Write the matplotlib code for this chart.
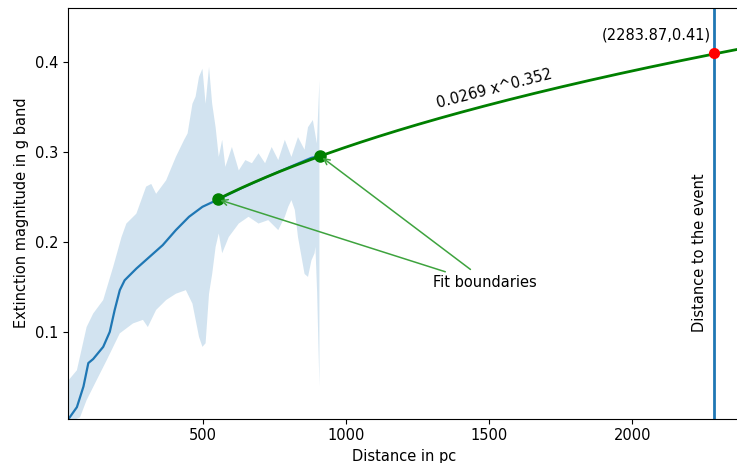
import numpy as np
import matplotlib
matplotlib.use("Agg")
import matplotlib.pyplot as plt

plt.rcParams['font.size'] = 10.5

# median extinction curve
dist = [29, 58, 81, 98, 115, 150, 173, 190, 208, 225, 266, 312, 358, 404, 450, 497,
        550, 635, 750, 878, 909]
ext = [0.004, 0.017, 0.040, 0.066, 0.0705, 0.084, 0.1007, 0.1248, 0.147, 0.158, 0.171,
       0.184, 0.197, 0.2137, 0.2285, 0.2396, 0.2475, 0.2605, 0.2767, 0.294, 0.296]

# spread band, upper and lower edges
up_x = [29, 58, 92, 115, 150, 185, 214, 231, 266, 300, 318, 335, 370, 404, 433, 445,
        462, 473, 485, 497, 508, 520, 531, 543, 554, 566, 577, 600, 624, 647, 670, 693,
        716, 739, 762, 785, 808, 831, 854, 866, 883, 897, 906]
up_y = [0.047, 0.058, 0.106, 0.121, 0.136, 0.173, 0.206, 0.221, 0.232, 0.262, 0.265,
        0.254, 0.269, 0.295, 0.314, 0.321, 0.354, 0.362, 0.384, 0.393, 0.354, 0.395,
        0.354, 0.328, 0.295, 0.314, 0.284, 0.306, 0.280, 0.2915, 0.288, 0.299, 0.288,
        0.306, 0.2915, 0.314, 0.295, 0.317, 0.303, 0.328, 0.336, 0.310, 0.380]
lo_x = [29, 69, 92, 127, 162, 208, 254, 289, 306, 335, 370, 404, 439, 462, 485, 497,
        508, 520, 531, 543, 554, 566, 589, 624, 658, 693, 727, 762, 785, 797, 808, 820,
        831, 854, 866, 878, 889, 892, 898, 906]
lo_y = [0.0, 0.0057, 0.0248, 0.047, 0.069, 0.099, 0.110, 0.114, 0.106, 0.125, 0.136,
        0.143, 0.147, 0.132, 0.095, 0.084, 0.088, 0.143, 0.165, 0.195, 0.210, 0.188,
        0.206, 0.221, 0.2285, 0.221, 0.2248, 0.2137, 0.2285, 0.2396, 0.247, 0.236,
        0.206, 0.165, 0.1617, 0.180, 0.188, 0.195, 0.144, 0.040]

# power-law fit shown in the chart
fit_a, fit_b = 0.0269, 0.352
fit_lo, fit_hi = 550, 909
event_d, event_ext = 2283.87, 0.41

fig = plt.figure(figsize=(7.37, 4.63), dpi=100)
ax = fig.add_axes([0.0923, 0.0961, 0.912, 0.8877])

ax.fill(np.r_[up_x, lo_x[::-1]], np.r_[up_y, lo_y[::-1]], color='#1f77b4',
        alpha=0.2, lw=0)
ax.plot(dist, ext, color='#1f77b4', lw=1.6)

xf = np.linspace(fit_lo, 2420, 300)
ax.plot(xf, fit_a * xf**fit_b, color='green', lw=2)
ax.plot([fit_lo, fit_hi], [fit_a * fit_lo**fit_b, fit_a * fit_hi**fit_b], 'o',
        color='green', ms=8)

ax.axvline(event_d, color='#1f77b4', lw=2)
ax.plot(event_d, event_ext, 'o', color='red', ms=7)
ax.text(2273, 0.430, "(%.2f,%.2f)" % (event_d, event_ext), ha='right', va='center')
ax.text(2262, 0.189, "Distance to the event", rotation=90, ha='right', va='center')

ax.text(1517, 0.371, "0.0269 x^0.352", rotation=14.5, ha='center', va='center')

arrow_col = '#3ea33e'
ax.annotate("Fit boundaries", xy=(fit_lo, fit_a * fit_lo**fit_b), xytext=(1304, 0.156),
            ha='left', va='center',
            arrowprops=dict(arrowstyle='->', color=arrow_col, lw=1.1,
                            relpos=(0.2, 1.0), shrinkA=0))
ax.annotate("", xy=(fit_hi, fit_a * fit_hi**fit_b), xytext=(1434, 0.170),
            arrowprops=dict(arrowstyle='->', color=arrow_col, lw=1.1, shrinkA=0))

ax.set_xlim(27, 2377)
ax.set_ylim(0.0044, 0.461)
ax.set_xlabel("Distance in pc")
ax.set_ylabel("Extinction magnitude in g band")

fig.savefig("out.png", dpi=100)
